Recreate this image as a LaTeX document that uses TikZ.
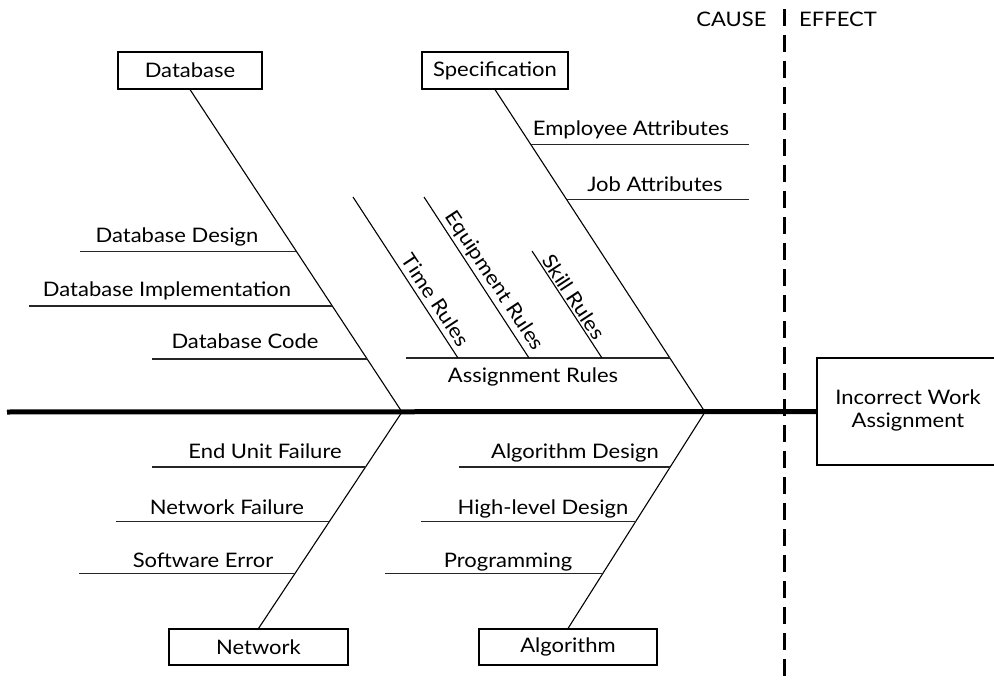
\documentclass[tikz,border=0pt]{standalone}
\usepackage{fontspec}
\setmainfont{Lato}[FakeStretch=1.1]
\usetikzlibrary{calc}
\begin{document}
\begin{tikzpicture}[x=1pt,y=-1pt,
  txt/.style={font=\fontsize{20}{23}\selectfont, inner sep=0pt},
  lbl/.style={txt, anchor=base},
  rot/.style={txt, rotate=-56.6},
  catbox/.style={txt, draw, line width=1.1pt, minimum height=37pt},
  bone/.style={line width=1.1pt},
  sub/.style={line width=1.4pt, black!85},
  spine/.style={line width=5pt},
  divider/.style={line width=3pt, dash pattern=on 17pt off 9pt}]
\useasboundingbox (0,0) rectangle (994,682);

% category boxes
\node[catbox, minimum width=144pt] (db) at (190,70.5) {Database};
\node[catbox, minimum width=146pt] (spec) at (495,70.5) {Specification};
\node[catbox, minimum width=179pt, minimum height=36pt] (net) at (258.5,647) {Network};
\node[catbox, minimum width=178pt, minimum height=36pt] (alg) at (568,647) {Algorithm};
\node[txt, draw, line width=1.1pt, minimum width=182pt, minimum height=107pt, align=center] (eff) at (908,411.5) {\strut Incorrect Work\\\strut Assignment};

% spine
\coordinate (tail) at (7,412);
\coordinate (j1) at (402,412);
\coordinate (j2) at (705,412);
\draw[spine] (tail) -- (eff.west);

% main bones
\draw[bone] (db.south) -- (j1);
\draw[bone] (spec.south) -- (j2);
\draw[bone] (net.north) -- (j1);
\draw[bone] (alg.north) -- (j2);

% points on bones
\coordinate (a1) at ($(db.south)!0.5015!(j1)$);
\coordinate (a2) at ($(db.south)!0.6718!(j1)$);
\coordinate (a3) at ($(db.south)!0.8359!(j1)$);
\coordinate (b1) at ($(spec.south)!0.1703!(j2)$);
\coordinate (b2) at ($(spec.south)!0.3406!(j2)$);
\coordinate (b3) at ($(spec.south)!0.8328!(j2)$);
\coordinate (c1) at ($(j1)!0.2535!(net.north)$);
\coordinate (c2) at ($(j1)!0.5069!(net.north)$);
\coordinate (c3) at ($(j1)!0.7465!(net.north)$);
\coordinate (d1) at ($(j2)!0.2535!(alg.north)$);
\coordinate (d2) at ($(j2)!0.5069!(alg.north)$);
\coordinate (d3) at ($(j2)!0.7465!(alg.north)$);
\coordinate (rend) at (749,0);

% sub-causes: Database
\draw[sub] (a1) -- ++(-216,0);
\draw[sub] (a2) -- ++(-303,0);
\draw[sub] (a3) -- ++(-215,0);
\node[lbl] (t1) at (177,243) {Database Design};
\node[lbl] (t2) at (167,296) {Database Implementation};
\node[lbl] (t3) at (245,348) {Database Code};

% sub-causes: Specification
\draw[sub] (b1) -- (b1 -| rend);
\draw[sub] (b2) -- (b2 -| rend);
\draw[sub] (b3) -- ++(-264,0);
\node[lbl] (t4) at (631,136) {Employee Attributes};
\node[lbl] (t5) at (655,192) {Job Attributes};
\node[lbl] (t6) at (533,382) {Assignment Rules};

% rules
\coordinate (r1) at (458,358);
\coordinate (r2) at (529,358);
\coordinate (r3) at (602,358);
\draw[bone] (r1) -- ++(-105,-161);
\draw[bone] (r2) -- ++(-105,-161);
\draw[bone] (r3) -- ++(-70,-107);
\node[rot] (t7) at (436,300) {Time Rules};
\node[rot] (t8) at (494,281) {Equipment Rules};
\node[rot] (t9) at (574,297) {Skill Rules};

% sub-causes: Network
\draw[sub] (c1) -- ++(-214,0);
\draw[sub] (c2) -- ++(-213,0);
\draw[sub] (c3) -- ++(-216,0);
\node[lbl] (t10) at (265,458) {End Unit Failure};
\node[lbl] (t11) at (227,514) {Network Failure};
\node[lbl] (t12) at (203,567) {Software Error};

% sub-causes: Algorithm
\draw[sub] (d1) -- ++(-211,0);
\draw[sub] (d2) -- ++(-215,0);
\draw[sub] (d3) -- ++(-218,0);
\node[lbl] (t13) at (575,458) {Algorithm Design};
\node[lbl] (t14) at (543,514) {High-level Design};
\node[lbl] (t15) at (508,567) {Programming};

% cause / effect divider
\coordinate (dvtop) at (784,9);
\coordinate (dvbot) at (784,682);
\draw[divider] (dvtop) -- (dvbot);
\node[lbl] (cause) at (731.5,27) {CAUSE};
\node[lbl] (effect) at (838,27) {EFFECT};
\end{tikzpicture}
\end{document}
